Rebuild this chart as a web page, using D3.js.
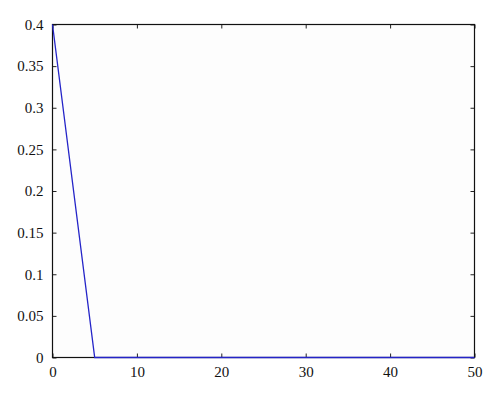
<!DOCTYPE html>
<html><head><meta charset="utf-8">
<script src="https://cdn.jsdelivr.net/npm/d3@7"></script>
</head><body style="margin:0;background:#fff">
<svg id="c" width="500" height="400" style="display:block"></svg>
<script>
const xValues = [0, 5, 10, 20, 30, 40, 50];
const yValues = [0.4, 0, 0, 0, 0, 0, 0];
const xTicks = [0, 10, 20, 30, 40, 50];
const yTicks = [0, 0.05, 0.1, 0.15, 0.2, 0.25, 0.3, 0.35, 0.4];

const FONT = "'Times New Roman', Times, 'Liberation Serif', 'DejaVu Serif', 'Noto Serif', serif";
const svg = d3.select("#c");
const L = 52.5, R = 474.5, T = 24.5, B = 357.5;
const x = d3.scaleLinear().domain([0, 50]).range([L, R]);
const y = d3.scaleLinear().domain([0, 0.4]).range([B, T]);

svg.append("rect").attr("x", L).attr("y", T).attr("width", R - L).attr("height", B - T)
  .attr("fill", "#fdfdfd").attr("stroke", "none");

const fmt = d => String(d);
const gb = svg.append("g").attr("transform", `translate(0,${B})`)
  .call(d3.axisBottom(x).tickValues(xTicks).tickFormat(fmt).tickSizeInner(-4).tickSizeOuter(0).tickPadding(9));
const gt = svg.append("g").attr("transform", `translate(0,${T})`)
  .call(d3.axisTop(x).tickValues(xTicks).tickFormat("").tickSizeInner(-4).tickSizeOuter(0));
const gl = svg.append("g").attr("transform", `translate(${L},0)`)
  .call(d3.axisLeft(y).tickValues(yTicks).tickFormat(fmt).tickSizeInner(-4).tickSizeOuter(0).tickPadding(9));
const gr = svg.append("g").attr("transform", `translate(${R},0)`)
  .call(d3.axisRight(y).tickValues(yTicks).tickFormat("").tickSizeInner(-4).tickSizeOuter(0));
[gb, gt, gl, gr].forEach(g => {
  g.attr("font-family", FONT).attr("font-size", 15);
  g.select(".domain").remove();
  g.selectAll("line").attr("stroke", "#222").attr("stroke-width", 1);
  g.selectAll("text").attr("fill", "#111").attr("font-family", FONT).attr("font-size", 15);
});

svg.append("rect").attr("x", L).attr("y", T).attr("width", R - L).attr("height", B - T)
  .attr("fill", "none").attr("stroke", "#111").attr("stroke-width", 1.2);

const data = xValues.map((v, i) => [v, yValues[i]]);
svg.append("path").datum(data)
  .attr("fill", "none").attr("stroke", "#2424c8").attr("stroke-width", 1.3)
  .attr("d", d3.line().x(d => x(d[0])).y(d => y(d[1])));
</script>
</body></html>
